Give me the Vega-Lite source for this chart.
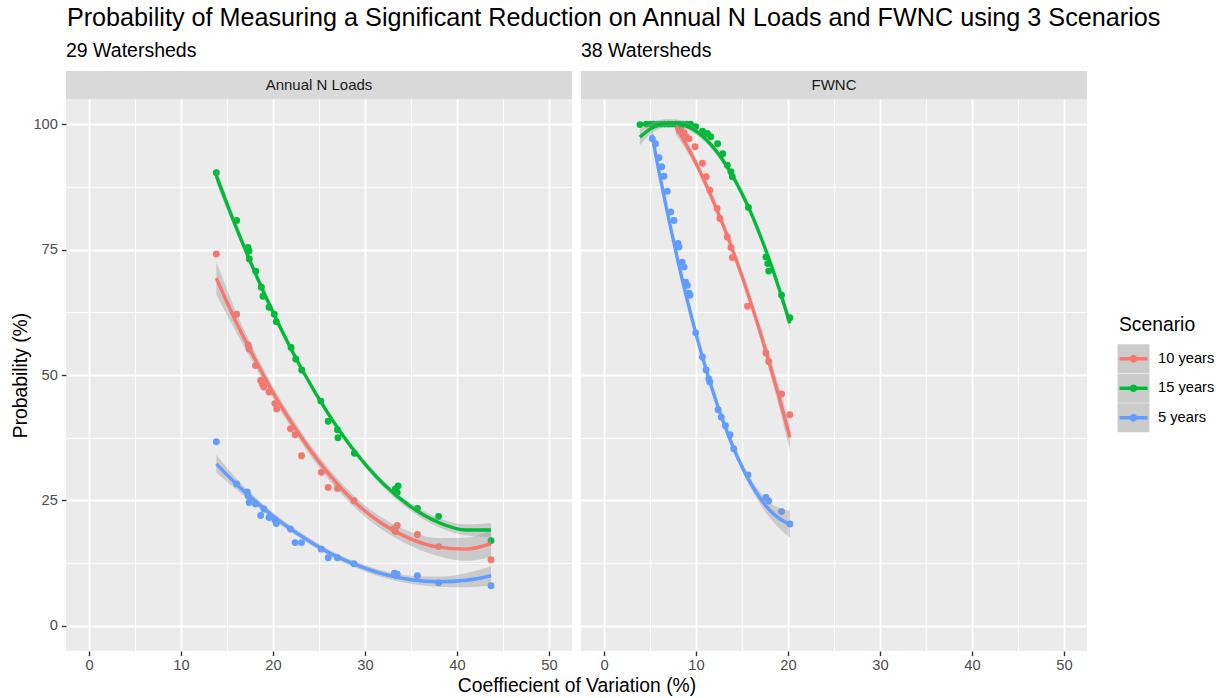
{
  "$schema": "https://vega.github.io/schema/vega-lite/v6.json",
  "background": "white",
  "padding": {"left": 11, "top": 6, "right": 4, "bottom": 2},
  "title": {"text": "Probability of Measuring a Significant Reduction on Annual N Loads and FWNC using 3 Scenarios", "anchor": "start", "fontSize": 25.2, "fontWeight": "normal", "color": "#000000", "offset": 9, "dx": 55},
  "datasets": {
    "strips": [
      {"panel": "Annual N Loads"},
      {"panel": "FWNC"}
    ],
    "keys": [
      {"key": "10 years"},
      {"key": "15 years"},
      {"key": "5 years"}
    ],
    "pts": [
      {"panel": "Annual N Loads", "scenario": "10 years", "cv": 13.84, "prob": 74.1},
      {"panel": "Annual N Loads", "scenario": "10 years", "cv": 16.05, "prob": 62.1},
      {"panel": "Annual N Loads", "scenario": "10 years", "cv": 17.3, "prob": 56.0},
      {"panel": "Annual N Loads", "scenario": "10 years", "cv": 17.4, "prob": 55.2},
      {"panel": "Annual N Loads", "scenario": "10 years", "cv": 18.1, "prob": 51.9},
      {"panel": "Annual N Loads", "scenario": "10 years", "cv": 18.66, "prob": 48.9},
      {"panel": "Annual N Loads", "scenario": "10 years", "cv": 18.84, "prob": 48.2},
      {"panel": "Annual N Loads", "scenario": "10 years", "cv": 19.0, "prob": 47.6},
      {"panel": "Annual N Loads", "scenario": "10 years", "cv": 19.57, "prob": 46.6},
      {"panel": "Annual N Loads", "scenario": "10 years", "cv": 20.2, "prob": 44.3},
      {"panel": "Annual N Loads", "scenario": "10 years", "cv": 20.4, "prob": 43.2},
      {"panel": "Annual N Loads", "scenario": "10 years", "cv": 21.9, "prob": 39.3},
      {"panel": "Annual N Loads", "scenario": "10 years", "cv": 22.4, "prob": 38.1},
      {"panel": "Annual N Loads", "scenario": "10 years", "cv": 23.1, "prob": 33.9},
      {"panel": "Annual N Loads", "scenario": "10 years", "cv": 25.25, "prob": 30.6},
      {"panel": "Annual N Loads", "scenario": "10 years", "cv": 26.0, "prob": 27.6},
      {"panel": "Annual N Loads", "scenario": "10 years", "cv": 27.0, "prob": 27.4},
      {"panel": "Annual N Loads", "scenario": "10 years", "cv": 28.8, "prob": 24.95},
      {"panel": "Annual N Loads", "scenario": "10 years", "cv": 33.15, "prob": 19.3},
      {"panel": "Annual N Loads", "scenario": "10 years", "cv": 33.5, "prob": 20.0},
      {"panel": "Annual N Loads", "scenario": "10 years", "cv": 33.3, "prob": 18.8},
      {"panel": "Annual N Loads", "scenario": "10 years", "cv": 35.7, "prob": 18.2},
      {"panel": "Annual N Loads", "scenario": "10 years", "cv": 38.0, "prob": 15.8},
      {"panel": "Annual N Loads", "scenario": "10 years", "cv": 43.7, "prob": 13.2},
      {"panel": "Annual N Loads", "scenario": "15 years", "cv": 13.84, "prob": 90.3},
      {"panel": "Annual N Loads", "scenario": "15 years", "cv": 16.05, "prob": 80.8},
      {"panel": "Annual N Loads", "scenario": "15 years", "cv": 17.28, "prob": 75.4},
      {"panel": "Annual N Loads", "scenario": "15 years", "cv": 17.39, "prob": 74.7},
      {"panel": "Annual N Loads", "scenario": "15 years", "cv": 17.42, "prob": 73.1},
      {"panel": "Annual N Loads", "scenario": "15 years", "cv": 18.12, "prob": 70.7},
      {"panel": "Annual N Loads", "scenario": "15 years", "cv": 18.73, "prob": 67.5},
      {"panel": "Annual N Loads", "scenario": "15 years", "cv": 18.91, "prob": 65.7},
      {"panel": "Annual N Loads", "scenario": "15 years", "cv": 19.57, "prob": 63.5},
      {"panel": "Annual N Loads", "scenario": "15 years", "cv": 20.14, "prob": 62.1},
      {"panel": "Annual N Loads", "scenario": "15 years", "cv": 20.36, "prob": 60.6},
      {"panel": "Annual N Loads", "scenario": "15 years", "cv": 21.96, "prob": 55.5},
      {"panel": "Annual N Loads", "scenario": "15 years", "cv": 22.47, "prob": 53.2},
      {"panel": "Annual N Loads", "scenario": "15 years", "cv": 23.12, "prob": 51.0},
      {"panel": "Annual N Loads", "scenario": "15 years", "cv": 25.2, "prob": 44.8},
      {"panel": "Annual N Loads", "scenario": "15 years", "cv": 26.0, "prob": 40.8},
      {"panel": "Annual N Loads", "scenario": "15 years", "cv": 27.0, "prob": 39.1},
      {"panel": "Annual N Loads", "scenario": "15 years", "cv": 27.07, "prob": 37.5},
      {"panel": "Annual N Loads", "scenario": "15 years", "cv": 28.84, "prob": 34.4},
      {"panel": "Annual N Loads", "scenario": "15 years", "cv": 33.3, "prob": 27.3},
      {"panel": "Annual N Loads", "scenario": "15 years", "cv": 33.6, "prob": 27.9},
      {"panel": "Annual N Loads", "scenario": "15 years", "cv": 33.5, "prob": 26.6},
      {"panel": "Annual N Loads", "scenario": "15 years", "cv": 35.7, "prob": 23.4},
      {"panel": "Annual N Loads", "scenario": "15 years", "cv": 38.0, "prob": 21.8},
      {"panel": "Annual N Loads", "scenario": "15 years", "cv": 43.7, "prob": 17.0},
      {"panel": "Annual N Loads", "scenario": "5 years", "cv": 13.84, "prob": 36.7},
      {"panel": "Annual N Loads", "scenario": "5 years", "cv": 16.05, "prob": 28.3},
      {"panel": "Annual N Loads", "scenario": "5 years", "cv": 17.2, "prob": 26.7},
      {"panel": "Annual N Loads", "scenario": "5 years", "cv": 17.3, "prob": 25.9},
      {"panel": "Annual N Loads", "scenario": "5 years", "cv": 17.4, "prob": 24.6},
      {"panel": "Annual N Loads", "scenario": "5 years", "cv": 18.1, "prob": 24.3},
      {"panel": "Annual N Loads", "scenario": "5 years", "cv": 18.66, "prob": 22.0},
      {"panel": "Annual N Loads", "scenario": "5 years", "cv": 19.0, "prob": 23.3},
      {"panel": "Annual N Loads", "scenario": "5 years", "cv": 19.57, "prob": 21.6},
      {"panel": "Annual N Loads", "scenario": "5 years", "cv": 20.2, "prob": 21.1},
      {"panel": "Annual N Loads", "scenario": "5 years", "cv": 20.36, "prob": 20.4},
      {"panel": "Annual N Loads", "scenario": "5 years", "cv": 21.9, "prob": 19.3},
      {"panel": "Annual N Loads", "scenario": "5 years", "cv": 22.4, "prob": 16.6},
      {"panel": "Annual N Loads", "scenario": "5 years", "cv": 23.1, "prob": 16.6},
      {"panel": "Annual N Loads", "scenario": "5 years", "cv": 25.25, "prob": 15.3},
      {"panel": "Annual N Loads", "scenario": "5 years", "cv": 26.0, "prob": 13.6},
      {"panel": "Annual N Loads", "scenario": "5 years", "cv": 27.0, "prob": 13.6},
      {"panel": "Annual N Loads", "scenario": "5 years", "cv": 28.8, "prob": 12.4},
      {"panel": "Annual N Loads", "scenario": "5 years", "cv": 33.2, "prob": 10.5},
      {"panel": "Annual N Loads", "scenario": "5 years", "cv": 33.5, "prob": 10.3},
      {"panel": "Annual N Loads", "scenario": "5 years", "cv": 33.4, "prob": 10.0},
      {"panel": "Annual N Loads", "scenario": "5 years", "cv": 35.7, "prob": 10.0},
      {"panel": "Annual N Loads", "scenario": "5 years", "cv": 38.0, "prob": 8.6},
      {"panel": "Annual N Loads", "scenario": "5 years", "cv": 43.7, "prob": 8.0},
      {"panel": "FWNC", "scenario": "10 years", "cv": 7.8, "prob": 100.0},
      {"panel": "FWNC", "scenario": "10 years", "cv": 8.1, "prob": 99.8},
      {"panel": "FWNC", "scenario": "10 years", "cv": 8.4, "prob": 99.5},
      {"panel": "FWNC", "scenario": "10 years", "cv": 8.15, "prob": 98.8},
      {"panel": "FWNC", "scenario": "10 years", "cv": 8.7, "prob": 98.3},
      {"panel": "FWNC", "scenario": "10 years", "cv": 8.9, "prob": 97.5},
      {"panel": "FWNC", "scenario": "10 years", "cv": 9.24, "prob": 97.1},
      {"panel": "FWNC", "scenario": "10 years", "cv": 9.9, "prob": 95.5},
      {"panel": "FWNC", "scenario": "10 years", "cv": 10.7, "prob": 92.2},
      {"panel": "FWNC", "scenario": "10 years", "cv": 11.1, "prob": 89.5},
      {"panel": "FWNC", "scenario": "10 years", "cv": 11.5, "prob": 86.8},
      {"panel": "FWNC", "scenario": "10 years", "cv": 12.3, "prob": 83.2},
      {"panel": "FWNC", "scenario": "10 years", "cv": 12.6, "prob": 81.2},
      {"panel": "FWNC", "scenario": "10 years", "cv": 13.4, "prob": 77.5},
      {"panel": "FWNC", "scenario": "10 years", "cv": 13.8, "prob": 75.4},
      {"panel": "FWNC", "scenario": "10 years", "cv": 13.95, "prob": 73.4},
      {"panel": "FWNC", "scenario": "10 years", "cv": 15.6, "prob": 63.7},
      {"panel": "FWNC", "scenario": "10 years", "cv": 17.6, "prob": 54.4},
      {"panel": "FWNC", "scenario": "10 years", "cv": 17.9, "prob": 52.7},
      {"panel": "FWNC", "scenario": "10 years", "cv": 19.3, "prob": 46.2},
      {"panel": "FWNC", "scenario": "10 years", "cv": 20.2, "prob": 42.1},
      {"panel": "FWNC", "scenario": "15 years", "cv": 3.91, "prob": 99.9},
      {"panel": "FWNC", "scenario": "15 years", "cv": 4.6, "prob": 100.0},
      {"panel": "FWNC", "scenario": "15 years", "cv": 5.0, "prob": 100.0},
      {"panel": "FWNC", "scenario": "15 years", "cv": 5.4, "prob": 100.0},
      {"panel": "FWNC", "scenario": "15 years", "cv": 5.8, "prob": 100.0},
      {"panel": "FWNC", "scenario": "15 years", "cv": 6.2, "prob": 100.0},
      {"panel": "FWNC", "scenario": "15 years", "cv": 6.6, "prob": 100.0},
      {"panel": "FWNC", "scenario": "15 years", "cv": 7.0, "prob": 100.0},
      {"panel": "FWNC", "scenario": "15 years", "cv": 7.4, "prob": 100.0},
      {"panel": "FWNC", "scenario": "15 years", "cv": 7.8, "prob": 100.0},
      {"panel": "FWNC", "scenario": "15 years", "cv": 8.2, "prob": 100.0},
      {"panel": "FWNC", "scenario": "15 years", "cv": 8.6, "prob": 100.0},
      {"panel": "FWNC", "scenario": "15 years", "cv": 9.0, "prob": 100.0},
      {"panel": "FWNC", "scenario": "15 years", "cv": 9.4, "prob": 100.0},
      {"panel": "FWNC", "scenario": "15 years", "cv": 9.97, "prob": 99.5},
      {"panel": "FWNC", "scenario": "15 years", "cv": 10.7, "prob": 98.6},
      {"panel": "FWNC", "scenario": "15 years", "cv": 11.05, "prob": 98.1},
      {"panel": "FWNC", "scenario": "15 years", "cv": 11.25, "prob": 98.1},
      {"panel": "FWNC", "scenario": "15 years", "cv": 11.6, "prob": 97.5},
      {"panel": "FWNC", "scenario": "15 years", "cv": 12.35, "prob": 96.1},
      {"panel": "FWNC", "scenario": "15 years", "cv": 12.9, "prob": 94.1},
      {"panel": "FWNC", "scenario": "15 years", "cv": 13.4, "prob": 91.8},
      {"panel": "FWNC", "scenario": "15 years", "cv": 13.8, "prob": 90.5},
      {"panel": "FWNC", "scenario": "15 years", "cv": 13.95, "prob": 89.5},
      {"panel": "FWNC", "scenario": "15 years", "cv": 15.7, "prob": 83.4},
      {"panel": "FWNC", "scenario": "15 years", "cv": 17.6, "prob": 73.5},
      {"panel": "FWNC", "scenario": "15 years", "cv": 17.8, "prob": 72.2},
      {"panel": "FWNC", "scenario": "15 years", "cv": 17.9, "prob": 70.7},
      {"panel": "FWNC", "scenario": "15 years", "cv": 19.3, "prob": 65.9},
      {"panel": "FWNC", "scenario": "15 years", "cv": 20.2, "prob": 61.4},
      {"panel": "FWNC", "scenario": "5 years", "cv": 5.25, "prob": 97.1},
      {"panel": "FWNC", "scenario": "5 years", "cv": 5.6, "prob": 96.1},
      {"panel": "FWNC", "scenario": "5 years", "cv": 5.98, "prob": 93.3},
      {"panel": "FWNC", "scenario": "5 years", "cv": 6.27, "prob": 91.5},
      {"panel": "FWNC", "scenario": "5 years", "cv": 6.52, "prob": 89.6},
      {"panel": "FWNC", "scenario": "5 years", "cv": 6.88, "prob": 86.6},
      {"panel": "FWNC", "scenario": "5 years", "cv": 7.25, "prob": 82.5},
      {"panel": "FWNC", "scenario": "5 years", "cv": 7.6, "prob": 80.8},
      {"panel": "FWNC", "scenario": "5 years", "cv": 8.04, "prob": 76.2},
      {"panel": "FWNC", "scenario": "5 years", "cv": 8.15, "prob": 75.5},
      {"panel": "FWNC", "scenario": "5 years", "cv": 8.5, "prob": 72.5},
      {"panel": "FWNC", "scenario": "5 years", "cv": 8.7, "prob": 71.5},
      {"panel": "FWNC", "scenario": "5 years", "cv": 8.88, "prob": 68.5},
      {"panel": "FWNC", "scenario": "5 years", "cv": 9.05, "prob": 67.9},
      {"panel": "FWNC", "scenario": "5 years", "cv": 9.24, "prob": 66.3},
      {"panel": "FWNC", "scenario": "5 years", "cv": 9.35, "prob": 65.9},
      {"panel": "FWNC", "scenario": "5 years", "cv": 9.97, "prob": 58.4},
      {"panel": "FWNC", "scenario": "5 years", "cv": 10.7, "prob": 53.6},
      {"panel": "FWNC", "scenario": "5 years", "cv": 11.1, "prob": 51.0},
      {"panel": "FWNC", "scenario": "5 years", "cv": 11.4, "prob": 49.2},
      {"panel": "FWNC", "scenario": "5 years", "cv": 11.5, "prob": 48.6},
      {"panel": "FWNC", "scenario": "5 years", "cv": 12.4, "prob": 43.1},
      {"panel": "FWNC", "scenario": "5 years", "cv": 12.75, "prob": 41.6},
      {"panel": "FWNC", "scenario": "5 years", "cv": 13.2, "prob": 39.9},
      {"panel": "FWNC", "scenario": "5 years", "cv": 13.7, "prob": 38.1},
      {"panel": "FWNC", "scenario": "5 years", "cv": 14.1, "prob": 35.3},
      {"panel": "FWNC", "scenario": "5 years", "cv": 15.65, "prob": 30.1},
      {"panel": "FWNC", "scenario": "5 years", "cv": 17.6, "prob": 25.6},
      {"panel": "FWNC", "scenario": "5 years", "cv": 17.9, "prob": 24.9},
      {"panel": "FWNC", "scenario": "5 years", "cv": 19.3, "prob": 22.8},
      {"panel": "FWNC", "scenario": "5 years", "cv": 20.2, "prob": 20.3}
    ],
    "smooth": [
      {"panel": "Annual N Loads", "scenario": "10 years", "cv": 13.84, "fit": 69.3, "lo": 66.0, "hi": 72.6},
      {"panel": "Annual N Loads", "scenario": "10 years", "cv": 16, "fit": 60.5, "lo": 58.5, "hi": 62.5},
      {"panel": "Annual N Loads", "scenario": "10 years", "cv": 18, "fit": 53.3, "lo": 51.9, "hi": 54.7},
      {"panel": "Annual N Loads", "scenario": "10 years", "cv": 20, "fit": 46.5, "lo": 45.3, "hi": 47.7},
      {"panel": "Annual N Loads", "scenario": "10 years", "cv": 23, "fit": 37.8, "lo": 36.7, "hi": 38.9},
      {"panel": "Annual N Loads", "scenario": "10 years", "cv": 26, "fit": 30.4, "lo": 29.3, "hi": 31.5},
      {"panel": "Annual N Loads", "scenario": "10 years", "cv": 29, "fit": 24.5, "lo": 23.4, "hi": 25.6},
      {"panel": "Annual N Loads", "scenario": "10 years", "cv": 32, "fit": 20.2, "lo": 19.0, "hi": 21.4},
      {"panel": "Annual N Loads", "scenario": "10 years", "cv": 35, "fit": 17.3, "lo": 15.9, "hi": 18.7},
      {"panel": "Annual N Loads", "scenario": "10 years", "cv": 38, "fit": 15.7, "lo": 13.9, "hi": 17.5},
      {"panel": "Annual N Loads", "scenario": "10 years", "cv": 41, "fit": 15.3, "lo": 13.0, "hi": 17.6},
      {"panel": "Annual N Loads", "scenario": "10 years", "cv": 43.7, "fit": 16.4, "lo": 13.7, "hi": 19.1},
      {"panel": "Annual N Loads", "scenario": "15 years", "cv": 13.84, "fit": 89.7, "lo": 88.2, "hi": 91.2},
      {"panel": "Annual N Loads", "scenario": "15 years", "cv": 16, "fit": 79.4, "lo": 78.4, "hi": 80.4},
      {"panel": "Annual N Loads", "scenario": "15 years", "cv": 18, "fit": 70.6, "lo": 69.8, "hi": 71.4},
      {"panel": "Annual N Loads", "scenario": "15 years", "cv": 20, "fit": 62.5, "lo": 61.8, "hi": 63.2},
      {"panel": "Annual N Loads", "scenario": "15 years", "cv": 23, "fit": 51.6, "lo": 51.0, "hi": 52.2},
      {"panel": "Annual N Loads", "scenario": "15 years", "cv": 26, "fit": 42.3, "lo": 41.7, "hi": 42.9},
      {"panel": "Annual N Loads", "scenario": "15 years", "cv": 29, "fit": 34.5, "lo": 33.9, "hi": 35.1},
      {"panel": "Annual N Loads", "scenario": "15 years", "cv": 32, "fit": 28.3, "lo": 27.6, "hi": 29.0},
      {"panel": "Annual N Loads", "scenario": "15 years", "cv": 35, "fit": 23.7, "lo": 22.9, "hi": 24.5},
      {"panel": "Annual N Loads", "scenario": "15 years", "cv": 38, "fit": 20.6, "lo": 19.7, "hi": 21.5},
      {"panel": "Annual N Loads", "scenario": "15 years", "cv": 41, "fit": 19.1, "lo": 18.0, "hi": 20.2},
      {"panel": "Annual N Loads", "scenario": "15 years", "cv": 43.7, "fit": 19.1, "lo": 17.7, "hi": 20.5},
      {"panel": "Annual N Loads", "scenario": "5 years", "cv": 13.84, "fit": 32.3, "lo": 30.5, "hi": 34.1},
      {"panel": "Annual N Loads", "scenario": "5 years", "cv": 16, "fit": 28.3, "lo": 27.2, "hi": 29.4},
      {"panel": "Annual N Loads", "scenario": "5 years", "cv": 18, "fit": 25.0, "lo": 24.2, "hi": 25.8},
      {"panel": "Annual N Loads", "scenario": "5 years", "cv": 20, "fit": 21.9, "lo": 21.2, "hi": 22.6},
      {"panel": "Annual N Loads", "scenario": "5 years", "cv": 23, "fit": 18.0, "lo": 17.4, "hi": 18.6},
      {"panel": "Annual N Loads", "scenario": "5 years", "cv": 26, "fit": 14.7, "lo": 14.1, "hi": 15.3},
      {"panel": "Annual N Loads", "scenario": "5 years", "cv": 29, "fit": 12.2, "lo": 11.6, "hi": 12.8},
      {"panel": "Annual N Loads", "scenario": "5 years", "cv": 32, "fit": 10.3, "lo": 9.6, "hi": 11.0},
      {"panel": "Annual N Loads", "scenario": "5 years", "cv": 35, "fit": 9.2, "lo": 8.4, "hi": 10.0},
      {"panel": "Annual N Loads", "scenario": "5 years", "cv": 38, "fit": 8.8, "lo": 7.8, "hi": 9.8},
      {"panel": "Annual N Loads", "scenario": "5 years", "cv": 41, "fit": 9.1, "lo": 7.7, "hi": 10.5},
      {"panel": "Annual N Loads", "scenario": "5 years", "cv": 43.7, "fit": 10.0, "lo": 8.1, "hi": 11.9},
      {"panel": "FWNC", "scenario": "10 years", "cv": 7.8, "fit": 99.5, "lo": 98.0, "hi": 101.0},
      {"panel": "FWNC", "scenario": "10 years", "cv": 9, "fit": 95.7, "lo": 94.6, "hi": 96.8},
      {"panel": "FWNC", "scenario": "10 years", "cv": 10, "fit": 92.2, "lo": 91.3, "hi": 93.1},
      {"panel": "FWNC", "scenario": "10 years", "cv": 11, "fit": 88.3, "lo": 87.4, "hi": 89.2},
      {"panel": "FWNC", "scenario": "10 years", "cv": 12, "fit": 84.1, "lo": 83.2, "hi": 85.0},
      {"panel": "FWNC", "scenario": "10 years", "cv": 13, "fit": 79.6, "lo": 78.7, "hi": 80.5},
      {"panel": "FWNC", "scenario": "10 years", "cv": 14, "fit": 74.8, "lo": 73.9, "hi": 75.7},
      {"panel": "FWNC", "scenario": "10 years", "cv": 15, "fit": 69.7, "lo": 68.7, "hi": 70.7},
      {"panel": "FWNC", "scenario": "10 years", "cv": 16, "fit": 64.2, "lo": 63.1, "hi": 65.3},
      {"panel": "FWNC", "scenario": "10 years", "cv": 17, "fit": 58.4, "lo": 57.1, "hi": 59.7},
      {"panel": "FWNC", "scenario": "10 years", "cv": 18, "fit": 52.2, "lo": 50.6, "hi": 53.8},
      {"panel": "FWNC", "scenario": "10 years", "cv": 19, "fit": 45.8, "lo": 43.8, "hi": 47.8},
      {"panel": "FWNC", "scenario": "10 years", "cv": 20.2, "fit": 37.6, "lo": 35.0, "hi": 40.2},
      {"panel": "FWNC", "scenario": "15 years", "cv": 3.9, "fit": 97.4, "lo": 95.8, "hi": 99.0},
      {"panel": "FWNC", "scenario": "15 years", "cv": 5, "fit": 99.0, "lo": 97.9, "hi": 100.1},
      {"panel": "FWNC", "scenario": "15 years", "cv": 6, "fit": 99.9, "lo": 99.0, "hi": 100.8},
      {"panel": "FWNC", "scenario": "15 years", "cv": 7, "fit": 100.3, "lo": 99.6, "hi": 101.0},
      {"panel": "FWNC", "scenario": "15 years", "cv": 8, "fit": 100.2, "lo": 99.5, "hi": 100.9},
      {"panel": "FWNC", "scenario": "15 years", "cv": 9, "fit": 99.6, "lo": 98.9, "hi": 100.3},
      {"panel": "FWNC", "scenario": "15 years", "cv": 10, "fit": 98.6, "lo": 97.9, "hi": 99.3},
      {"panel": "FWNC", "scenario": "15 years", "cv": 11, "fit": 97.1, "lo": 96.4, "hi": 97.8},
      {"panel": "FWNC", "scenario": "15 years", "cv": 12, "fit": 95.1, "lo": 94.4, "hi": 95.8},
      {"panel": "FWNC", "scenario": "15 years", "cv": 13, "fit": 92.6, "lo": 91.9, "hi": 93.3},
      {"panel": "FWNC", "scenario": "15 years", "cv": 14, "fit": 89.6, "lo": 88.9, "hi": 90.3},
      {"panel": "FWNC", "scenario": "15 years", "cv": 15, "fit": 86.1, "lo": 85.4, "hi": 86.8},
      {"panel": "FWNC", "scenario": "15 years", "cv": 16, "fit": 82.2, "lo": 81.5, "hi": 82.9},
      {"panel": "FWNC", "scenario": "15 years", "cv": 17, "fit": 77.7, "lo": 77.0, "hi": 78.4},
      {"panel": "FWNC", "scenario": "15 years", "cv": 18, "fit": 72.8, "lo": 72.0, "hi": 73.6},
      {"panel": "FWNC", "scenario": "15 years", "cv": 19, "fit": 67.4, "lo": 66.4, "hi": 68.4},
      {"panel": "FWNC", "scenario": "15 years", "cv": 20.2, "fit": 60.3, "lo": 58.8, "hi": 61.8},
      {"panel": "FWNC", "scenario": "5 years", "cv": 5.2, "fit": 97.9, "lo": 96.4, "hi": 99.4},
      {"panel": "FWNC", "scenario": "5 years", "cv": 6, "fit": 90.3, "lo": 89.2, "hi": 91.4},
      {"panel": "FWNC", "scenario": "5 years", "cv": 7, "fit": 81.4, "lo": 80.6, "hi": 82.2},
      {"panel": "FWNC", "scenario": "5 years", "cv": 8, "fit": 73.0, "lo": 72.2, "hi": 73.8},
      {"panel": "FWNC", "scenario": "5 years", "cv": 9, "fit": 65.3, "lo": 64.5, "hi": 66.1},
      {"panel": "FWNC", "scenario": "5 years", "cv": 10, "fit": 58.2, "lo": 57.4, "hi": 59.0},
      {"panel": "FWNC", "scenario": "5 years", "cv": 11, "fit": 51.7, "lo": 50.9, "hi": 52.5},
      {"panel": "FWNC", "scenario": "5 years", "cv": 12, "fit": 45.8, "lo": 45.0, "hi": 46.6},
      {"panel": "FWNC", "scenario": "5 years", "cv": 13, "fit": 40.5, "lo": 39.7, "hi": 41.3},
      {"panel": "FWNC", "scenario": "5 years", "cv": 14, "fit": 35.8, "lo": 35.0, "hi": 36.6},
      {"panel": "FWNC", "scenario": "5 years", "cv": 15, "fit": 31.7, "lo": 30.9, "hi": 32.5},
      {"panel": "FWNC", "scenario": "5 years", "cv": 16, "fit": 28.25, "lo": 27.35, "hi": 29.15},
      {"panel": "FWNC", "scenario": "5 years", "cv": 17, "fit": 25.4, "lo": 24.2, "hi": 26.6},
      {"panel": "FWNC", "scenario": "5 years", "cv": 18, "fit": 23.1, "lo": 21.6, "hi": 24.6},
      {"panel": "FWNC", "scenario": "5 years", "cv": 19, "fit": 21.5, "lo": 19.5, "hi": 23.5},
      {"panel": "FWNC", "scenario": "5 years", "cv": 20.2, "fit": 20.3, "lo": 17.6, "hi": 23.0}
    ]
  },
  "concat": [
    {
      "width": 506, "height": 28,
      "data": {"name": "strips"},
      "transform": [{"filter": "datum.panel == 'Annual N Loads'"}],
      "title": {"text": "29 Watersheds", "anchor": "start", "fontSize": 19.5, "fontWeight": "normal", "color": "#000000", "offset": 10},
      "view": {"fill": "#D9D9D9", "stroke": null},
      "mark": {"type": "text", "fontSize": 15, "color": "#1A1A1A"},
      "encoding": {"text": {"field": "panel", "type": "nominal"}}
    },
    {
      "width": 506, "height": 28,
      "data": {"name": "strips"},
      "transform": [{"filter": "datum.panel == 'FWNC'"}],
      "title": {"text": "38 Watersheds", "anchor": "start", "fontSize": 19.5, "fontWeight": "normal", "color": "#000000", "offset": 10},
      "view": {"fill": "#D9D9D9", "stroke": null},
      "mark": {"type": "text", "fontSize": 15, "color": "#1A1A1A"},
      "encoding": {"text": {"field": "panel", "type": "nominal"}}
    },
    {
      "width": 506, "height": 552,
      "view": {"fill": "#EBEBEB", "stroke": null},
      "layer": [
        {
          "data": {"name": "keys"},
          "mark": {"type": "circle", "size": 1, "opacity": 0},
          "encoding": {
            "color": {"field": "key", "type": "nominal",
              "scale": {"range": ["#CBCBCB", "#CBCBCB", "#CBCBCB"]},
              "legend": {"title": "Scenario", "orient": "none", "legendX": 1053, "legendY": 245, "symbolType": "M-1.1,-1H1.1V1H-1.1Z", "symbolSize": 841, "symbolStrokeWidth": 0, "symbolOpacity": 1, "labelFontSize": 14.7, "labelColor": "transparent", "labelOffset": 10, "titleFontSize": 19.3, "titleFontWeight": "normal", "titleColor": "transparent", "titlePadding": 9, "rowPadding": 0.5}}
          }
        },
        {
          "data": {"name": "pts"},
          "transform": [{"filter": "datum.panel == 'Annual N Loads'"}],
          "mark": {"type": "circle", "size": 48, "opacity": 1, "strokeWidth": 0},
          "encoding": {
            "x": {"field": "cv", "type": "quantitative", "scale": {"domain": [-2.5, 52.5], "nice": false, "zero": false},
              "axis": {"values": [0, 10, 20, 30, 40, 50], "grid": true, "gridColor": "#FFFFFF", "gridWidth": 1.8, "domain": false, "tickColor": "#333333", "tickSize": 4.6, "tickWidth": 1.4, "labelColor": "#4D4D4D", "labelFontSize": 14.7, "labelPadding": 2, "title": "Coeffiecient of Variation (%)", "titleFontSize": 19.3, "titleFontWeight": "normal", "titleColor": "#000000", "titleX": 510.5, "titleAlign": "center", "titlePadding": 4}},
            "y": {"field": "prob", "type": "quantitative", "scale": {"domain": [-5, 105], "nice": false, "zero": false},
              "axis": {"values": [0, 25, 50, 75, 100], "grid": true, "gridColor": "#FFFFFF", "gridWidth": 1.8, "domain": false, "tickColor": "#333333", "tickSize": 4.6, "tickWidth": 1.4, "labelColor": "#4D4D4D", "labelFontSize": 14.7, "labelPadding": 4, "title": "Probability (%)", "titleFontSize": 19.3, "titleFontWeight": "normal", "titleColor": "#000000", "titlePadding": 2}},
            "fill": {"field": "scenario", "type": "nominal",
              "scale": {"domain": ["10 years", "15 years", "5 years"], "range": ["#F8766D", "#00BA38", "#619CFF"]},
              "legend": {"title": "Scenario", "orient": "none", "legendX": 1053, "legendY": 245, "symbolType": "M-1.1,-1M1.1,1M-0.97,-0.117H0.97V0.117H-0.97Z M-0.26,0A0.26,0.26 0 1,1 0.26,0A0.26,0.26 0 1,1 -0.26,0Z", "symbolSize": 841, "symbolStrokeWidth": 0, "symbolOpacity": 1, "labelFontSize": 14.7, "labelColor": "#000000", "labelOffset": 10, "titleFontSize": 19.3, "titleFontWeight": "normal", "titleColor": "#000000", "titlePadding": 9, "rowPadding": 0.5}}
          }
        },
        {
          "data": {"name": "smooth"},
          "transform": [{"filter": "datum.panel == 'Annual N Loads'"}],
          "mark": {"type": "area", "color": "#999999", "opacity": 0.4, "interpolate": "monotone"},
          "encoding": {
            "x": {"field": "cv", "type": "quantitative", "axis": null},
            "y": {"field": "lo", "type": "quantitative", "axis": null},
            "y2": {"field": "hi"},
            "detail": {"field": "scenario", "type": "nominal"}
          }
        },
        {
          "data": {"name": "smooth"},
          "transform": [{"filter": "datum.panel == 'Annual N Loads'"}],
          "mark": {"type": "line", "strokeWidth": 3.4, "interpolate": "monotone"},
          "encoding": {
            "x": {"field": "cv", "type": "quantitative", "axis": {"values": [5, 15, 25, 35, 45], "orient": "top", "grid": true, "gridColor": "#FFFFFF", "gridWidth": 0.9, "domain": false, "ticks": false, "labels": false, "title": null}},
            "y": {"field": "fit", "type": "quantitative", "axis": {"values": [12.5, 37.5, 62.5, 87.5], "orient": "right", "grid": true, "gridColor": "#FFFFFF", "gridWidth": 0.9, "domain": false, "ticks": false, "labels": false, "title": null}},
            "stroke": {"field": "scenario", "type": "nominal", "scale": {"domain": ["10 years", "15 years", "5 years"], "range": ["#F8766D", "#00BA38", "#619CFF"]}, "legend": null}
          }
        }
      ],
      "resolve": {"axis": {"x": "independent", "y": "independent"}}
    },
    {
      "width": 506, "height": 552,
      "view": {"fill": "#EBEBEB", "stroke": null},
      "layer": [
        {
          "data": {"name": "pts"},
          "transform": [{"filter": "datum.panel == 'FWNC'"}],
          "mark": {"type": "circle", "size": 48, "opacity": 1, "strokeWidth": 0},
          "encoding": {
            "x": {"field": "cv", "type": "quantitative", "scale": {"domain": [-2.5, 52.5], "nice": false, "zero": false},
              "axis": {"values": [0, 10, 20, 30, 40, 50], "grid": true, "gridColor": "#FFFFFF", "gridWidth": 1.8, "domain": false, "tickColor": "#333333", "tickSize": 4.6, "tickWidth": 1.4, "labelColor": "#4D4D4D", "labelFontSize": 14.7, "labelPadding": 2, "title": null}},
            "y": {"field": "prob", "type": "quantitative", "scale": {"domain": [-5, 105], "nice": false, "zero": false},
              "axis": {"values": [0, 25, 50, 75, 100], "grid": true, "gridColor": "#FFFFFF", "gridWidth": 1.8, "domain": false, "ticks": false, "labels": false, "title": null}},
            "fill": {"field": "scenario", "type": "nominal", "legend": null}
          }
        },
        {
          "data": {"name": "smooth"},
          "transform": [{"filter": "datum.panel == 'FWNC'"}],
          "mark": {"type": "area", "color": "#999999", "opacity": 0.4, "interpolate": "monotone"},
          "encoding": {
            "x": {"field": "cv", "type": "quantitative", "axis": null},
            "y": {"field": "lo", "type": "quantitative", "axis": null},
            "y2": {"field": "hi"},
            "detail": {"field": "scenario", "type": "nominal"}
          }
        },
        {
          "data": {"name": "smooth"},
          "transform": [{"filter": "datum.panel == 'FWNC'"}],
          "mark": {"type": "line", "strokeWidth": 3.4, "interpolate": "monotone"},
          "encoding": {
            "x": {"field": "cv", "type": "quantitative", "axis": {"values": [5, 15, 25, 35, 45], "orient": "top", "grid": true, "gridColor": "#FFFFFF", "gridWidth": 0.9, "domain": false, "ticks": false, "labels": false, "title": null}},
            "y": {"field": "fit", "type": "quantitative", "axis": {"values": [12.5, 37.5, 62.5, 87.5], "orient": "right", "grid": true, "gridColor": "#FFFFFF", "gridWidth": 0.9, "domain": false, "ticks": false, "labels": false, "title": null}},
            "stroke": {"field": "scenario", "type": "nominal", "legend": null}
          }
        }
      ],
      "resolve": {"axis": {"x": "independent", "y": "independent"}}
    }
  ],
  "columns": 2,
  "align": "each",
  "bounds": "flush",
  "spacing": {"row": 0, "column": 9},
  "config": {
    "font": "Liberation Sans",
    "view": {"stroke": null}
  }
}
